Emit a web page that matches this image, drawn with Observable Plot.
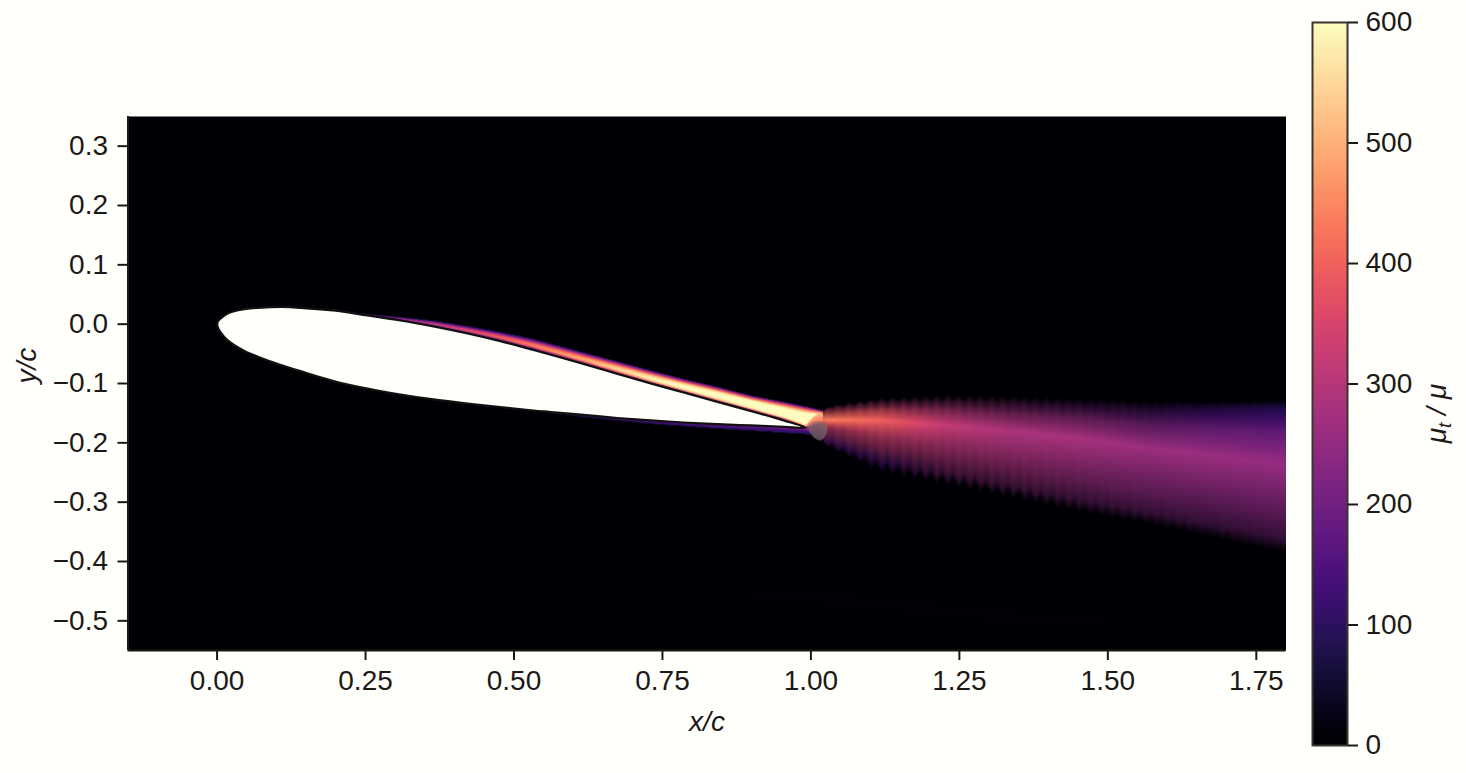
<!DOCTYPE html>
<html>
<head>
<meta charset="utf-8">
<script src="https://cdn.jsdelivr.net/npm/d3@7"></script>
<script src="https://cdn.jsdelivr.net/npm/@observablehq/plot@0.6"></script>
<style>
html,body{margin:0;padding:0;background:#fffffb;}
#wrap{position:relative;width:1466px;height:773px;overflow:hidden;font-family:"Liberation Sans",Arial,sans-serif;}
#wrap svg{position:absolute;left:0;top:0;}
</style>
</head>
<body>
<div id="wrap"></div>
<script>
const xTicks = [0,0.25,0.5,0.75,1,1.25,1.5,1.75];
const yTicks = [-0.5,-0.4,-0.3,-0.2,-0.1,0,0.1,0.2,0.3];
const barTicks = [0,100,200,300,400,500,600];

// aerofoil outline
const foilX = [.0002,.0017,.0057,.0170,.0338,.0562,.0899,.1236,.1404,.1960,.2532,.3088,.3643,.4216,.4771,.5328,.6171,.6744,.7299,.7855,.8427,.8983,.9539,.9910,
  .9539,.8983,.8427,.7855,.7299,.6744,.6171,.5615,.5328,.4771,.4216,.3643,.3088,.2532,.1960,.1404,.1012,.0731,.0445,.0170,.0057,.0017];
const foilY = [-.0005,.0054,.0091,.0175,.0231,.0265,.0287,.0287,.0273,.0231,.0147,.0062,-.0039,-.0157,-.0287,-.0435,-.0671,-.0839,-.0999,-.1151,-.1311,-.1463,-.1623,-.1741,
  -.1729,-.1707,-.1685,-.1657,-.1623,-.1581,-.1530,-.1480,-.1455,-.1396,-.1337,-.1269,-.1185,-.1084,-.0957,-.0792,-.0667,-.0566,-.0443,-.0263,-.0135,-.0064];

// grey patch just behind the trailing edge
const patchX = [.9959,1.0094,1.0263,1.0263,1.0162,1.0027];
const patchY = [-.1707,-.1640,-.1691,-.1842,-.1960,-.1893];

// suction-side boundary layer: stations, outer edge, wall, values from outer edge to wall
const bandX = [.2246,.3088,.3643,.4216,.4771,.5328,.6171,.6744,.7299,.7855,.8427,.8983,.9539,.9910,1.0195];
const bandOuter = [.0197,.0121,.0062,-.0030,-.0131,-.0249,-.0477,-.0629,-.0780,-.0924,-.1058,-.1202,-.1311,-.1387,-.1455];
const bandWall = [.0189,.0062,-.0039,-.0157,-.0287,-.0435,-.0671,-.0839,-.0999,-.1151,-.1311,-.1463,-.1623,-.1741,-.1640];
const bandLevels = [0,.17,.33,.5,.67,.83,1];
const bandValues = [
  [0,40,100,100,80,30,0],
  [40,120,200,250,250,120,0],
  [60,130,240,310,320,170,0],
  [70,150,280,350,370,220,0],
  [80,170,310,390,400,260,0],
  [90,190,340,430,440,300,0],
  [100,240,400,480,500,360,0],
  [100,270,440,530,550,420,0],
  [110,300,480,570,590,470,0],
  [110,320,530,600,600,510,0],
  [120,360,570,600,600,540,0],
  [120,400,600,600,600,570,0],
  [120,420,600,600,600,590,0],
  [120,450,600,600,600,600,480],
  [100,400,590,590,560,480,470]
];

// pressure-side layer
const lowerX = [.4771,.6171,.7299,.8427,.9539,1.0];
const lowerWall = [-.1396,-.1530,-.1623,-.1685,-.1729,-.176];
const lowerOuter = [-.1396,-.1570,-.1680,-.1760,-.1830,-.186];
const lowerValues = [0,120,170,190,200,190];

// wake: stations, top edge, centre, bottom edge
const wakeX = [.9875,1.005,1.0316,1.1158,1.2286,1.3398,1.4526,1.5654,1.6766,1.80];
const wakeTop = [-.1741,-.1550,-.1382,-.1264,-.1213,-.1230,-.1264,-.1298,-.1298,-.1264];
const wakeMid = [-.1745,-.1610,-.1618,-.1618,-.1702,-.1803,-.1921,-.2090,-.2208,-.2377];
const wakeBot = [-.1760,-.1900,-.2073,-.2467,-.2669,-.2899,-.3148,-.3356,-.3592,-.3863];
// mesh teeth depth along the wake
const wakeTooth = [.04,.1,.14,.15,.14,.11,.07,.04,.02,.01];
const toothWidth = 0.0185;
const wakeLevels = [-1,-.85,-.5,0,.3,.6,.85,1];
const wakeHue = [
  [450,450,450,450,350,300,200,150],
  [450,450,450,450,300,250,200,150],
  [300,320,400,440,340,280,170,120],
  [300,300,380,400,350,300,150,100],
  [250,280,310,320,310,300,260,200],
  [230,250,280,285,285,280,260,210],
  [170,210,260,280,270,260,240,210],
  [130,170,220,265,255,245,230,205],
  [110,130,200,260,250,235,225,200],
  [100,100,190,255,240,230,220,200]
];
const wakeAlpha = [
  [.5,.7,.8,.9,.7,.6,.6,0],
  [0,.5,.7,.9,.7,.6,.6,0],
  [0,.3,.6,1,.65,.5,.45,0],
  [0,.25,.62,1,.7,.48,.38,0],
  [0,.22,.62,1,.75,.52,.33,0],
  [0,.22,.58,1,.78,.55,.34,0],
  [0,.25,.62,1,.8,.58,.36,0],
  [0,.3,.68,1,.8,.6,.38,0],
  [0,.5,.82,1,.82,.6,.38,0],
  [0,.75,.9,1,.82,.62,.38,0]
];

// faint trace low in the field
const faintX = [.2,.6,1.0,1.4,1.8];
const faintMid = [-.42,-.44,-.46,-.50,-.52];
const faintHalf = [.02,.05,.06,.06,.06];
const faintValues = [2,4,5,5,4];

const pw = (dom, rng) => d3.scaleLinear(dom, rng).clamp(true);
const bandOuterAt = pw(bandX, bandOuter), bandWallAt = pw(bandX, bandWall);
const lowerWallAt = pw(lowerX, lowerWall), lowerOuterAt = pw(lowerX, lowerOuter), lowerValAt = pw(lowerX, lowerValues);
const wakeTopAt = pw(wakeX, wakeTop), wakeMidAt = pw(wakeX, wakeMid), wakeBotAt = pw(wakeX, wakeBot), toothAt = pw(wakeX, wakeTooth);
const faintMidAt = pw(faintX, faintMid), faintHalfAt = pw(faintX, faintHalf), faintValAt = pw(faintX, faintValues);

function tableAt(xs, rows, levels, x, s) {
  const i = Math.max(0, Math.min(xs.length - 2, d3.bisectRight(xs, x) - 1));
  const t = Math.min(1, (x - xs[i]) / (xs[i+1] - xs[i]));
  const j = Math.max(0, Math.min(levels.length - 2, d3.bisectRight(levels, s) - 1));
  const u = (s - levels[j]) / (levels[j+1] - levels[j]);
  const a = rows[i][j] + (rows[i][j+1] - rows[i][j]) * u;
  const b = rows[i+1][j] + (rows[i+1][j+1] - rows[i+1][j]) * u;
  return a + (b - a) * t;
}
function muRatio(x, y) {
  let v = 0;
  if (x >= faintX[0]) {
    const d = Math.abs(y - faintMidAt(x)) / faintHalfAt(x);
    if (d < 1) v = faintValAt(x) * (1 - d);
  }
  if (x >= bandX[0] && x <= bandX[bandX.length-1]) {
    const o = bandOuterAt(x), w = bandWallAt(x);
    if (y <= o && y >= w && o > w) v = Math.max(v, tableAt(bandX, bandValues, bandLevels, x, (o - y) / (o - w)));
  }
  if (x >= lowerX[0] && x <= lowerX[lowerX.length-1]) {
    const w = lowerWallAt(x), o = lowerOuterAt(x);
    if (y <= w && y >= o && w > o) v = Math.max(v, lowerValAt(x) * (1 - 0.6*(w - y) / (w - o)));
  }
  return v;
}
function wakePos(x, y) {
  if (x < wakeX[0]) return null;
  const t = wakeTopAt(x), m = wakeMidAt(x), b = wakeBotAt(x);
  let s = y >= m ? -(y - m) / (t - m || 1) : (m - y) / (m - b || 1);
  const f = x / toothWidth; const tri = Math.abs((f - Math.floor(f)) - .5) * 2;
  s = s * (1 + toothAt(x) * (tri - .5));
  return Math.abs(s) > 1 ? null : s;
}
const wakeFill = (x, y) => { const s = wakePos(x, y); return s == null ? 0 : tableAt(wakeX, wakeHue, wakeLevels, x, s); };
const wakeOpacity = (x, y) => { const s = wakePos(x, y); return s == null ? 0 : tableAt(wakeX, wakeAlpha, wakeLevels, x, s); };

const ink = "#1c1917";
const frame = {x1: -0.15, x2: 1.8, y1: -0.55, y2: 0.35, pixelSize: 1};
const main = Plot.plot({
  width: 1466, height: 773,
  marginLeft: 127.5, marginRight: 180.5, marginTop: 116, marginBottom: 123,
  style: {background: "#fffffb", fontFamily: '"Liberation Sans",Arial,sans-serif', overflow: "visible"},
  x: {domain: [-0.15, 1.8], axis: null},
  y: {domain: [-0.55, 0.35], axis: null},
  color: {type: "linear", scheme: "magma", domain: [0, 600], clamp: true},
  marks: [
    Plot.raster({fill: muRatio, ...frame}),
    Plot.raster({fill: wakeFill, fillOpacity: wakeOpacity, ...frame}),
    Plot.line(patchX.map((x, i) => ({x, y: patchY[i]})), {x: "x", y: "y", curve: "catmull-rom-closed", fill: "#7f7670", fillOpacity: 0.6}),
    Plot.line(foilX.map((x, i) => ({x, y: foilY[i]})), {x: "x", y: "y", curve: "catmull-rom-closed", fill: "#fffffb", stroke: "#140f10", strokeWidth: 2.2}),
    Plot.ruleX([-0.15], {stroke: ink, strokeWidth: 2}),
    Plot.ruleY([-0.55], {stroke: ink, strokeWidth: 2}),
    Plot.axisX({ticks: xTicks, tickFormat: d3.format(".2f"), fontSize: 28, tickSize: 10, tickPadding: 10, strokeWidth: 2, stroke: ink, fill: ink, label: null}),
    Plot.axisY({ticks: yTicks, tickFormat: d3.format(".1f"), fontSize: 28, tickSize: 10, tickPadding: 10, strokeWidth: 2, stroke: ink, fill: ink, label: null}),
    Plot.text(["x/c"], {frameAnchor: "bottom", dy: 80, fontSize: 28, fontStyle: "italic", fill: ink}),
    Plot.text(["y/c"], {frameAnchor: "left", dx: -101, rotate: -90, fontSize: 28, fontStyle: "italic", fill: ink})
  ]
});

const bar = Plot.plot({
  width: 1466, height: 773,
  marginLeft: 1312, marginRight: 119, marginTop: 22, marginBottom: 28,
  style: {background: "transparent", fontFamily: '"Liberation Sans",Arial,sans-serif', overflow: "visible"},
  x: {domain: [0, 1], axis: null},
  y: {domain: [0, 600], axis: null},
  color: {type: "linear", scheme: "magma", domain: [0, 600]},
  marks: [
    Plot.raster({fill: (x, y) => y, x1: 0, x2: 1, y1: 0, y2: 600, pixelSize: 1}),
    Plot.frame({stroke: "#3b3530", strokeWidth: 2}),
    Plot.axisY({anchor: "right", ticks: barTicks, tickFormat: d3.format("d"), fontSize: 28, tickSize: 10, tickPadding: 8, strokeWidth: 2, stroke: ink, fill: ink, label: null}),
    Plot.text(["\u03bct / \u03bc"], {frameAnchor: "right", dx: 90, rotate: -90, fontSize: 28, fontStyle: "italic", fill: ink, className: "barlabel"})
  ]
});

document.getElementById("wrap").append(main, bar);
const lab = bar.querySelector(".barlabel text");
if (lab) lab.innerHTML = '\u03bc<tspan dy="5" font-size="19">t</tspan><tspan dy="-5"> / \u03bc</tspan>';
</script>
</body>
</html>
